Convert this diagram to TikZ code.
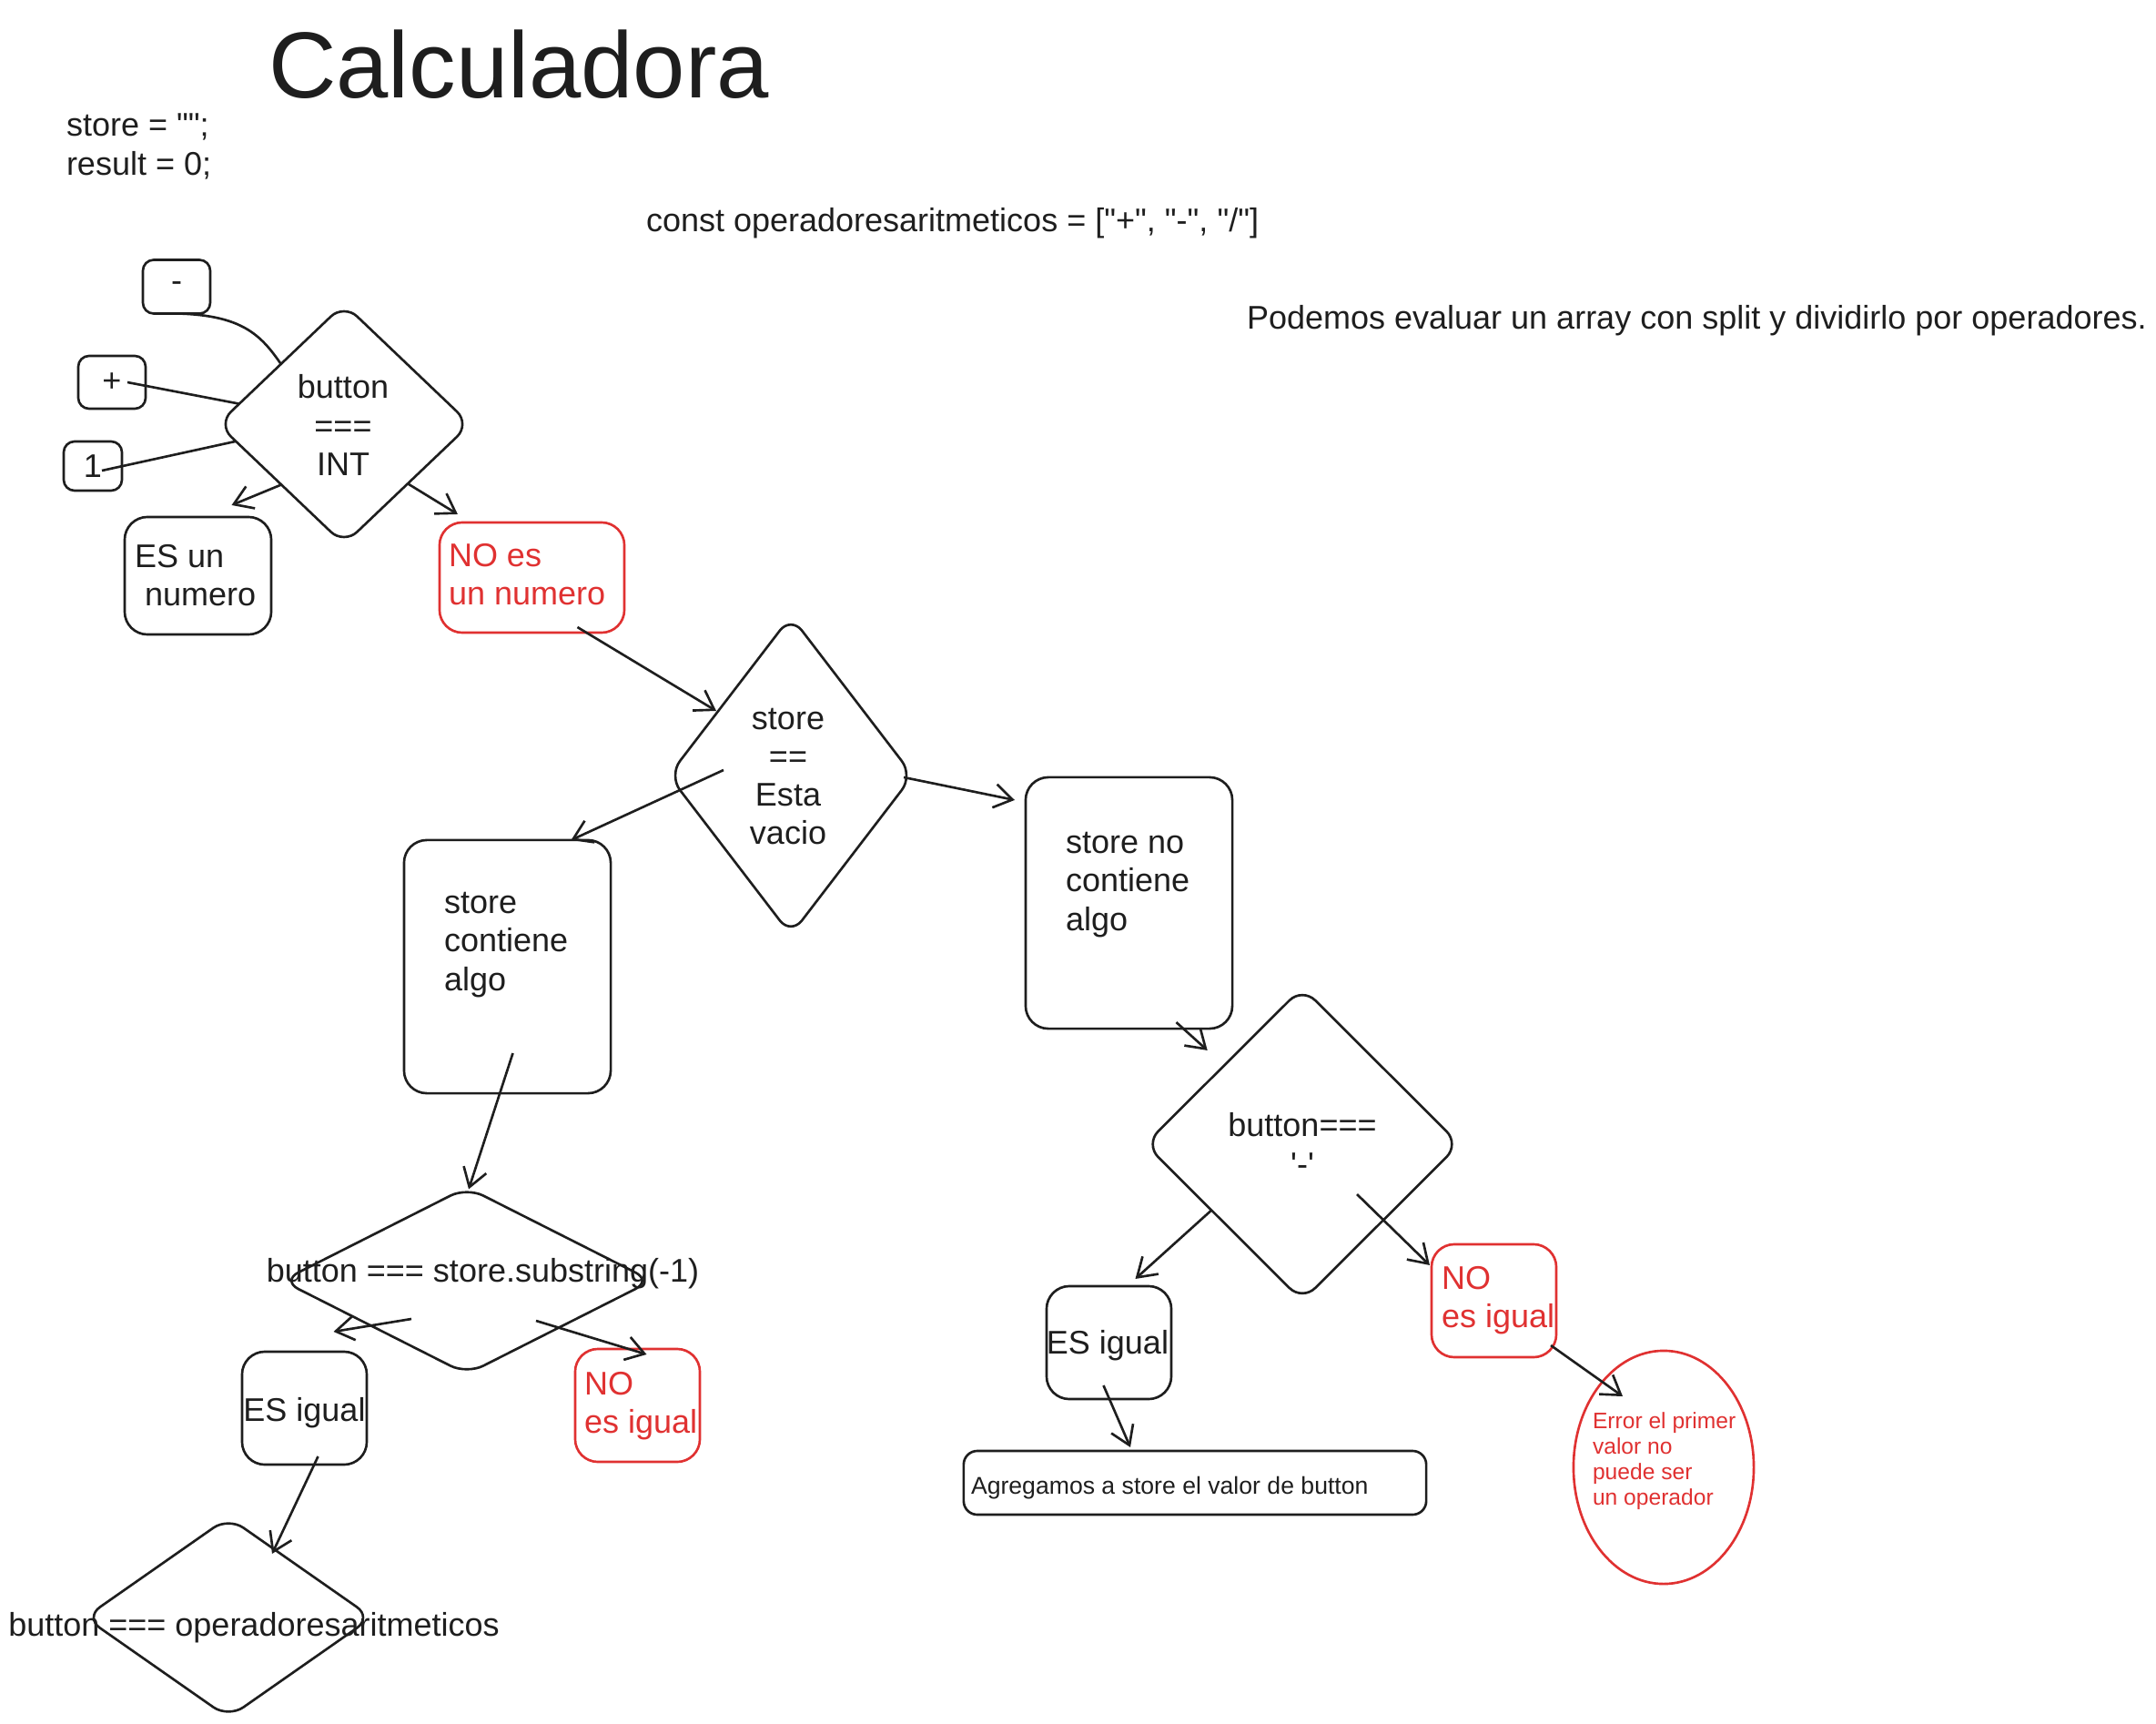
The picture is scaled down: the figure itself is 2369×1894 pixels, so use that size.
\documentclass[tikz,border=0pt]{standalone}
\usepackage{fontspec}
\setmainfont{Liberation Sans}
\usetikzlibrary{shapes.geometric,arrows.meta}
\definecolor{ink}{HTML}{1E1E1E}
\definecolor{exred}{HTML}{E03131}
\newcommand{\dq}{\textquotedbl}
\begin{document}
\begin{tikzpicture}[x=0.01cm,y=-0.01cm,
  every node/.style={inner sep=0pt, outer sep=0pt},
  lw/.style={line width=0.75pt},
  box/.style={draw=ink, lw, rectangle, rounded corners=0.25cm},
  sbox/.style={draw=ink, lw, rectangle, rounded corners=0.12cm},
  rbox/.style={draw=exred, lw, rectangle, rounded corners=0.25cm},
  dia/.style={draw=ink, lw, diamond, rounded corners=0.2cm},
  txt/.style={font=\fontsize{10.24pt}{12pt}\selectfont, text=ink},
  rtxt/.style={txt, text=exred},
  arr/.style={draw=ink, lw, -{Straight Barb[length=0.2cm,width=0.26cm]}},
  link/.style={draw=ink, lw},
]
\fill[white] (0,0) rectangle (2369,1894);
\useasboundingbox (0,0) rectangle (2369,1894);

% headings
\node[font=\fontsize{29.3pt}{35pt}\selectfont, text=ink, anchor=base west] (title) at (295,108) {Calculadora};
\node[txt, align=left, anchor=west] (vars) at (73,161) {store = \dq\dq;\\result = 0;};
\node[txt, anchor=west] (ops) at (710,245) {const operadoresaritmeticos = [\dq+\dq, \dq-\dq, \dq/\dq]};
\node[txt, anchor=west] (note) at (1370,352) {Podemos evaluar un array con split y dividirlo por operadores.};

% input buttons
\node[sbox, txt, minimum width=0.74cm, minimum height=0.59cm] (minus) at (194,315) {-};
\node[sbox, txt, minimum width=0.74cm, minimum height=0.58cm] (plus) at (123,420) {+};
\node[sbox, txt, minimum width=0.64cm, minimum height=0.54cm] (one) at (102,512) {1};

% first decision
\node[dia, minimum width=2.77cm, minimum height=2.64cm] (dint) at (378,466) {};
\node[txt, align=center] (dintt) at (377,467) {button\\===\\INT};

\node[box, minimum width=1.61cm, minimum height=1.29cm] (esnum) at (217.5,632.5) {};
\node[txt, align=left, anchor=west] (esnumt) at (148,632) {ES un\\\hspace{0.11cm}numero};
\node[rbox, minimum width=2.03cm, minimum height=1.21cm] (nonum) at (584.5,634.5) {};
\node[rtxt, align=left, anchor=west] (nonumt) at (493,631.5) {NO es\\un numero};

% store decision
\node[dia, minimum width=2.68cm, minimum height=3.50cm] (dst) at (869,852) {};
\node[txt, align=center] (dstt) at (866,853) {store\\==\\Esta\\vacio};

\node[box, minimum width=2.27cm, minimum height=2.78cm] (sca) at (557.5,1062) {};
\node[txt, align=left, anchor=west] (scat) at (488,1038) {store\\contiene\\algo};
\node[box, minimum width=2.27cm, minimum height=2.76cm] (snca) at (1240.5,992) {};
\node[txt, align=left, anchor=west] (sncat) at (1171,972) {store no\\contiene\\algo};

% right branch
\node[dia, minimum width=3.45cm, minimum height=3.44cm] (dbm) at (1431,1257) {};
\node[txt, align=center] (dbmt) at (1431,1257) {button===\\\textquotesingle-\textquotesingle};
\node[box, minimum width=1.37cm, minimum height=1.24cm] (esr) at (1218.5,1475) {};
\node[txt] (esrt) at (1217,1478) {ES igual};
\node[rbox, minimum width=1.37cm, minimum height=1.24cm] (nor) at (1641.5,1429) {};
\node[rtxt, align=left, anchor=west] (nort) at (1584,1429) {NO\\es igual};
\node[draw=exred, lw, ellipse, minimum width=1.98cm, minimum height=2.56cm] (ell) at (1828,1612) {};
\node[font=\fontsize{7pt}{8pt}\selectfont, text=exred, align=left, anchor=west] (ellt) at (1750,1605) {Error el primer\\valor no\\puede ser\\un operador};
\node[box, rounded corners=0.15cm, minimum width=5.08cm, minimum height=0.70cm] (agr) at (1313,1629) {};
\node[font=\fontsize{7.57pt}{9pt}\selectfont, text=ink, anchor=west] (agrt) at (1067,1635) {Agregamos a store el valor de button};

% left branch
\node[dia, minimum width=4.06cm, minimum height=2.05cm] (dsub) at (513,1407) {};
\node[txt] (dsubt) at (530.5,1399) {button === store.substring(-1)};
\node[box, minimum width=1.37cm, minimum height=1.24cm] (esl) at (334.5,1547) {};
\node[txt] (eslt) at (334.5,1552) {ES igual};
\node[rbox, minimum width=1.37cm, minimum height=1.24cm] (nol) at (700.5,1544) {};
\node[rtxt, align=left, anchor=west] (nolt) at (642,1545) {NO\\es igual};
\node[dia, minimum width=3.15cm, minimum height=2.20cm] (dbot) at (251,1777) {};
\node[txt] (dbott) at (279,1788) {button === operadoresaritmeticos};

% connectors
\draw[link] ([shift={(2,0)}]minus.south) .. controls +(70,2) and +(-22,-32) .. (dint.north west);
\draw[link] ([shift={(17,0)}]plus.center) -- (dint.169);
\draw[link] ([shift={(10,5)}]one.center) -- (dint.189);
\draw[arr] (dint.224) -- ([shift={(37,-13)}]esnum.north);
\draw[arr] (dint.317) -- ([shift={(20,-9)}]nonum.north west);
\draw[arr] ([shift={(50,-6)}]nonum.south) -- ([shift={(-82,-71)}]dst.center);
\draw[arr] ([shift={(-74,-6)}]dst.center) -- ([shift={(70,0)}]sca.north);
\draw[arr] ([shift={(-10,2)}]dst.east) -- ([shift={(-12,25)}]snca.north west);
\draw[arr] ([shift={(52,-7)}]snca.south) -- ([shift={(-18,-17)}]dbm.north west);
\draw[arr] (dbm.216) -- ([shift={(29,-8)}]esr.north);
\draw[arr] ([shift={(60,55)}]dbm.center) -- ([shift={(-2,23)}]nor.north west);
\draw[arr] ([shift={(-6,-13)}]nor.south east) -- ([shift={(-45,-78)}]ell.center);
\draw[arr] ([shift={(-6,-15)}]esr.south) -- ([shift={(-71,-4)}]agr.north);
\draw[arr] ([shift={(6,-44)}]sca.south) -- ([shift={(2,2)}]dsub.north);
\draw[arr] ([shift={(-61,42)}]dsub.center) -- ([shift={(32,-22)}]esl.north);
\draw[arr] ([shift={(76,44)}]dsub.center) -- ([shift={(10,6)}]nol.north);
\draw[arr] ([shift={(15,-9)}]esl.south) -- ([shift={(48,40)}]dbot.north);
\end{tikzpicture}
\end{document}
